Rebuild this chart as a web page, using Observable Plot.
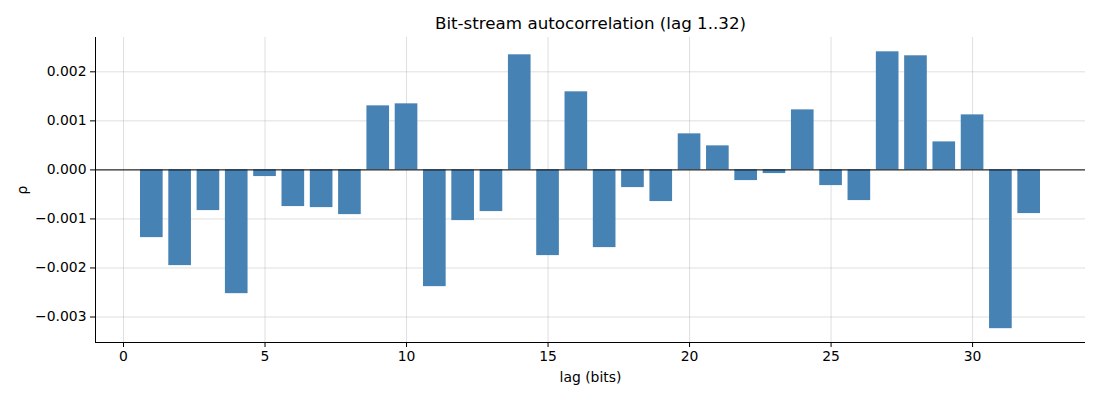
<!DOCTYPE html>
<html>
<head>
<meta charset="utf-8">
<script src="https://cdn.jsdelivr.net/npm/d3@7"></script>
<script src="https://cdn.jsdelivr.net/npm/@observablehq/plot@0.6"></script>
<style>
  html, body { margin: 0; padding: 0; background: #fff; }
  #chart svg { display: block; }
</style>
</head>
<body>
<div id="chart"></div>
<script>
const lags = [1,2,3,4,5,6,7,8,9,10,11,12,13,14,15,16,17,18,19,20,21,22,23,24,25,26,27,28,29,30,31,32];
const rho = [
  -0.001381, -0.001952, -0.000830, -0.002524, -0.000136, -0.000748, -0.000769, -0.000912,
   0.001306,  0.001347, -0.002381, -0.001034, -0.000850,  0.002347, -0.001748,  0.001592,
  -0.001585, -0.000361, -0.000646,  0.000735,  0.000490, -0.000218, -0.000075,  0.001224,
  -0.000320, -0.000626,  0.002408,  0.002327,  0.000571,  0.001122, -0.003238, -0.000891
];
const xTicks = [0, 5, 10, 15, 20, 25, 30];
const yTicks = [-0.003, -0.002, -0.001, 0, 0.001, 0.002];
const xDomain = [-0.99, 33.99];
const yDomain = [-0.00352, 0.0027];
const titleText = "Bit-stream autocorrelation (lag 1..32)";
const xLabel = "lag (bits)";
const yLabel = "ρ";

const data = lags.map((l, i) => ({lag: l, rho: rho[i]}));
const font = "DejaVu Sans, sans-serif";

const chart = Plot.plot({
  width: 1100,
  height: 400,
  marginLeft: 95,
  marginRight: 15,
  marginTop: 37,
  marginBottom: 58,
  style: {fontFamily: font, fontSize: "13.9px", color: "#000", background: "#fff"},
  x: {type: "linear", domain: xDomain},
  y: {type: "linear", domain: yDomain},
  marks: [
    Plot.gridX(xTicks, {stroke: "#b0b0b0", strokeOpacity: 0.5, strokeWidth: 0.8}),
    Plot.gridY(yTicks, {stroke: "#b0b0b0", strokeOpacity: 0.5, strokeWidth: 0.8}),
    Plot.rectY(data, {x1: d => d.lag - 0.4, x2: d => d.lag + 0.4, y: "rho", fill: "#4682b4"}),
    Plot.ruleY([0], {stroke: "#000", strokeWidth: 1}),
    Plot.ruleX([xDomain[0]], {stroke: "#000", strokeWidth: 1}),
    Plot.ruleY([yDomain[0]], {stroke: "#000", strokeWidth: 1}),
    Plot.axisX({ticks: xTicks, tickSize: 5, tickPadding: 4, label: null, fontSize: 13.9, tickFormat: d3.format("d"), fill: "#000", stroke: "#000"}),
    Plot.axisY({ticks: yTicks, tickSize: 5, tickPadding: 4, label: null, fontSize: 13.9, tickFormat: d3.format(".3f"), fill: "#000", stroke: "#000"}),
    Plot.text([xLabel], {frameAnchor: "bottom", lineAnchor: "middle", dy: 35, fontSize: 13.9, fill: "#000"}),
    Plot.text([yLabel], {frameAnchor: "left", textAnchor: "middle", lineAnchor: "middle", dx: -73, rotate: -90, fontSize: 13.9, fill: "#000"}),
    Plot.text([titleText], {frameAnchor: "top", lineAnchor: "middle", dy: -14, fontSize: 16.7, fill: "#000"})
  ]
});
document.getElementById("chart").appendChild(chart);
</script>
</body>
</html>
